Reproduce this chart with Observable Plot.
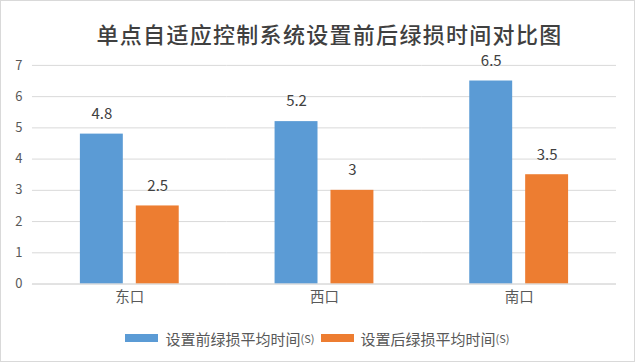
<!DOCTYPE html>
<html><head><meta charset="utf-8">
<script src="https://cdn.jsdelivr.net/npm/d3@7"></script>
<script src="https://cdn.jsdelivr.net/npm/@observablehq/plot@0.6"></script>
<style>
body{margin:0;background:#fff;font-family:"Noto Sans CJK SC","Noto Sans",sans-serif;}
#wrap{position:relative;width:633px;height:360px;border:1px solid #d9d9d9;overflow:hidden;background:#fff;}
#title{position:absolute;left:12px;top:17px;width:633px;text-align:center;font-size:22px;font-weight:500;color:#404040;font-family:"Noto Sans CJK SC",sans-serif;letter-spacing:1.3px;line-height:30px;}
#chart{position:absolute;left:-1px;top:-1px;}
#legend{position:absolute;left:0;top:326px;height:22px;width:633px;display:flex;justify-content:center;align-items:center;font-size:15px;color:#595959;}
.sw{display:inline-block;width:33px;height:8px;margin-right:7px;}
.item{display:flex;align-items:center;margin:0 3px;}
.s{font-size:11px;}
</style></head><body>
<div id="wrap">
<div id="title">单点自适应控制系统设置前后绿损时间对比图</div>
<div id="chart"></div>
<div id="legend"></div>
</div>
<script>
const regions = ["东口", "西口", "南口"];
const series = ["设置前绿损平均时间", "设置后绿损平均时间"];
const before = [4.8, 5.2, 6.5];
const after = [2.5, 3, 3.5];
const colors = ["#5B9BD5", "#ED7D31"];
const yTicks = [0, 1, 2, 3, 4, 5, 6, 7];

const data = [];
regions.forEach((r, i) => {
  data.push({region: r, series: series[0], value: before[i]});
  data.push({region: r, series: series[1], value: after[i]});
});

const chart = Plot.plot({
  width: 635,
  height: 310,
  marginTop: 65,
  marginBottom: 26,
  marginLeft: 32,
  marginRight: 18,
  style: {fontFamily: '"Noto Sans CJK SC","Noto Sans",sans-serif', background: "transparent"},
  fx: {domain: regions, padding: 0, label: null, axis: null},
  x: {domain: series, paddingInner: 0.232, paddingOuter: 0.857, axis: null},
  y: {domain: [0, 7], ticks: yTicks, label: null},
  color: {domain: series, range: colors},
  marks: [
    Plot.gridY(yTicks, {stroke: "#d9d9d9", strokeOpacity: 1, facetAnchor: null}),
    Plot.axisY(yTicks, {tickSize: 0, tickPadding: 10, fontSize: 13, color: "#595959", label: null}),
    Plot.axisFx({anchor: "bottom", tickSize: 0, tickPadding: 8, fontSize: 14.5, color: "#595959", label: null}),
    Plot.barY(data, {fx: "region", x: "series", y: "value", fill: "series"}),
    Plot.text(data, {fx: "region", x: "series", y: "value", text: d => String(d.value), dy: -20, fontSize: 15, fill: "#404040"}),
    Plot.ruleY([0], {stroke: "#d9d9d9"})
  ]
});
document.getElementById("chart").appendChild(chart);

const legend = document.getElementById("legend");
series.forEach((s, i) => {
  const it = document.createElement("span");
  it.className = "item";
  it.innerHTML = `<span class="sw" style="background:${colors[i]}"></span>${s}<span class="s">(S)</span>`;
  legend.appendChild(it);
});
</script>
</body></html>
